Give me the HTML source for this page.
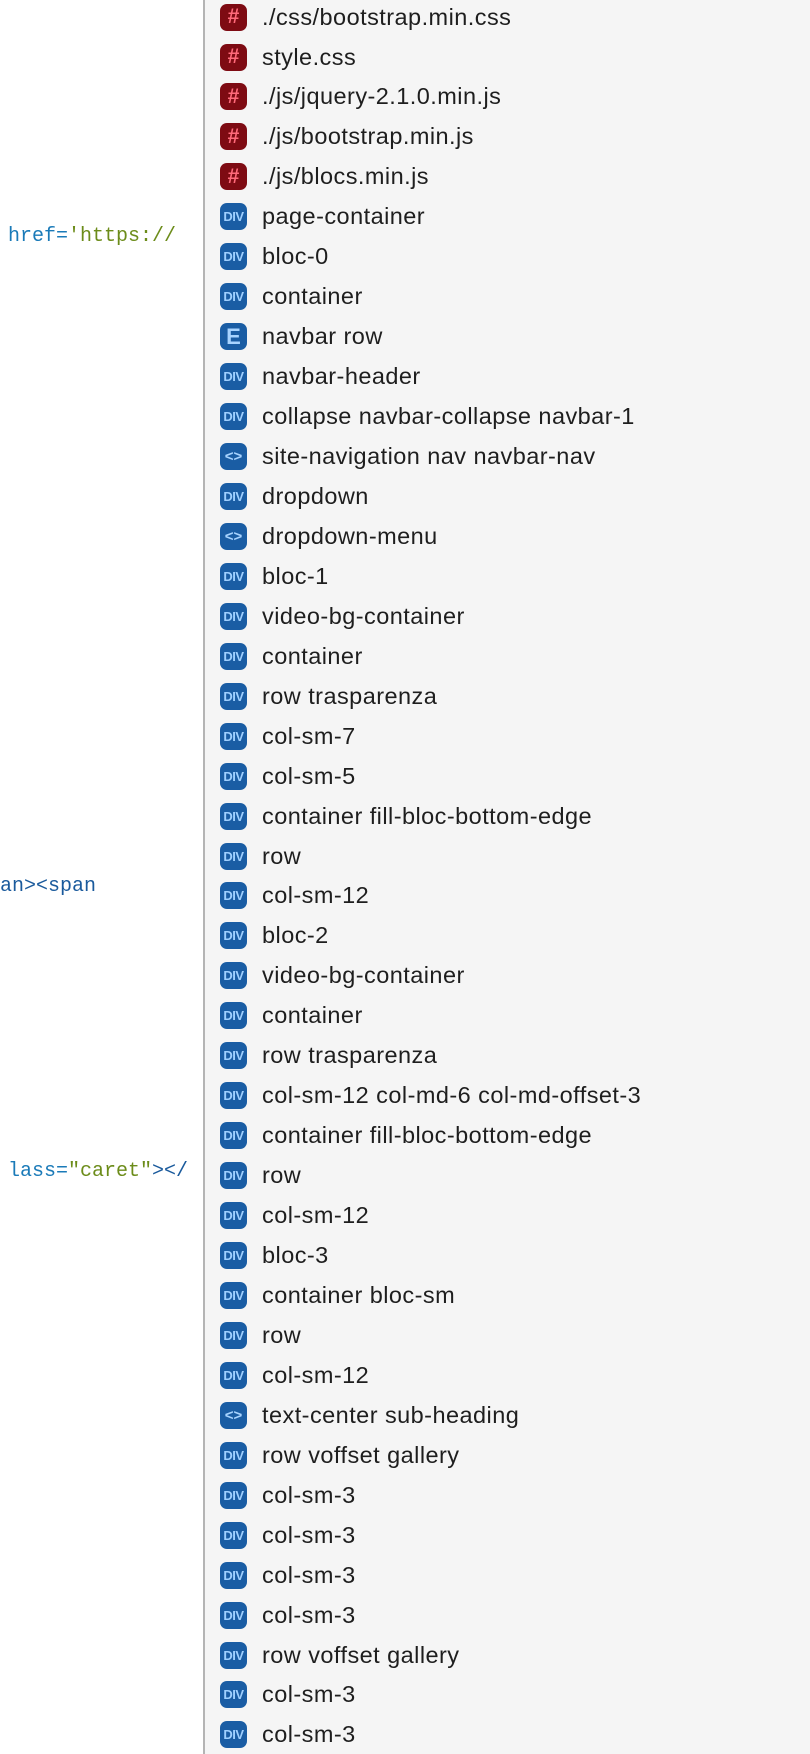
<!DOCTYPE html>
<html><head><meta charset="utf-8"><style>
html,body{margin:0;padding:0;}
body{width:810px;height:1754px;position:relative;overflow:hidden;background:#fff;font-family:"Liberation Sans",sans-serif;}
#right{position:absolute;left:203px;top:0;width:607px;height:1754px;background:#f5f5f5;border-left:2px solid #b4b4b4;}
.r{position:absolute;left:220px;height:28px;display:flex;align-items:center;}
.ic{width:27px;height:27px;border-radius:7px;display:flex;align-items:center;justify-content:center;font-weight:bold;box-sizing:border-box;}
.h{background:#7e0b13;color:#ff6a7a;font-size:21px;}
.d{background:#1a5da4;color:#9fd0ff;font-size:13px;letter-spacing:-0.5px;}
.e{background:#1a5da4;color:#a8d4ff;font-size:22px;}
.t{background:#1a5da4;color:#a8d4ff;font-size:15px;}
.lb{margin-left:15px;font-size:23.5px;letter-spacing:0.45px;color:#1e1e1e;white-space:nowrap;}
.code{position:absolute;font-family:"Liberation Mono",monospace;font-size:20px;white-space:nowrap;text-align:right;line-height:24px;}
.b{color:#1a5a9c}.a{color:#1a7ab8}.g{color:#6c8c1a}
</style></head><body>
<div class="code" style="right:634px;top:225px;"><span class="a">href=</span><span class="g">'https://</span></div>
<div class="code" style="right:714px;top:875px;"><span class="b">an&gt;&lt;span</span></div>
<div class="code" style="right:622px;top:1160px;"><span class="a">lass=</span><span class="g">"caret"</span><span class="b">&gt;&lt;/</span></div>
<div id="right"></div>
<div id="list"></div>
<script>
var items=[["h","./css/bootstrap.min.css"],["h","style.css"],["h","./js/jquery-2.1.0.min.js"],["h","./js/bootstrap.min.js"],["h","./js/blocs.min.js"],
["d","page-container"],["d","bloc-0"],["d","container"],["e","navbar row"],["d","navbar-header"],["d","collapse navbar-collapse navbar-1"],["t","site-navigation nav navbar-nav"],["d","dropdown"],["t","dropdown-menu"],["d","bloc-1"],["d","video-bg-container"],["d","container"],["d","row trasparenza"],["d","col-sm-7"],["d","col-sm-5"],["d","container fill-bloc-bottom-edge"],["d","row"],["d","col-sm-12"],["d","bloc-2"],["d","video-bg-container"],["d","container"],["d","row trasparenza"],["d","col-sm-12 col-md-6 col-md-offset-3"],["d","container fill-bloc-bottom-edge"],["d","row"],["d","col-sm-12"],["d","bloc-3"],["d","container bloc-sm"],["d","row"],["d","col-sm-12"],["t","text-center sub-heading"],["d","row voffset gallery"],["d","col-sm-3"],["d","col-sm-3"],["d","col-sm-3"],["d","col-sm-3"],["d","row voffset gallery"],["d","col-sm-3"],["d","col-sm-3"]];
var g={h:"#",d:"DIV",e:"E",t:"&lt;&gt;"};
var s="";
items.forEach(function(it,i){var y=17+i*39.95-14;
s+='<div class="r" style="top:'+y.toFixed(1)+'px"><div class="ic '+it[0]+'">'+g[it[0]]+'</div><div class="lb">'+it[1]+'</div></div>';});
document.getElementById("list").innerHTML=s;
</script>
</body></html>
